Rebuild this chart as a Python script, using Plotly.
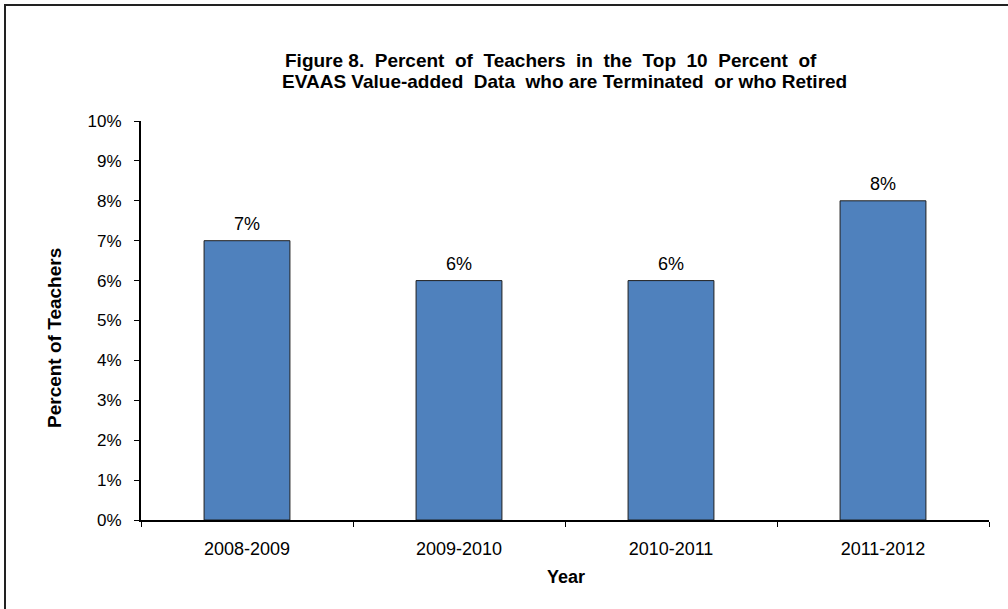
import plotly.graph_objects as go

# Data
years = ["2008-2009", "2009-2010", "2010-2011", "2011-2012"]
pct_teachers = [0.07, 0.06, 0.06, 0.08]
y_ticks = [0.0, 0.01, 0.02, 0.03, 0.04, 0.05, 0.06, 0.07, 0.08, 0.09, 0.10]

title_lines = [
    "Figure 8.  Percent  of  Teachers  in  the  Top  10  Percent  of",
    "EVAAS Value-added  Data  who are Terminated  or who Retired",
]
title_centers_x = [551, 564]

W, H = 1008, 609
L, R, T, B = 141, 19, 121, 89
PW, PH = W - L - R, H - T - B


def px_x(x):
    return (x - L) / PW


def px_y(y):
    return (H - B - y) / PH


FONT = "Liberation Sans, Arial, sans-serif"

fig = go.Figure()
fig.add_trace(
    go.Bar(
        x=years,
        y=pct_teachers,
        marker=dict(color="#4F81BD", line=dict(color="#1F1F1F", width=1)),
        width=0.405,
        hoverinfo="x+y",
    )
)

# Value labels above each bar
for yr, v in zip(years, pct_teachers):
    fig.add_annotation(
        x=yr, y=v, xref="x", yref="y",
        text=f"{v:.0%}",
        showarrow=False,
        yanchor="bottom", yshift=5,
        font=dict(size=18, family=FONT, color="#000000"),
    )

fig.update_layout(
    width=W,
    height=H,
    margin=dict(l=L, r=R, t=T, b=B, autoexpand=False),
    paper_bgcolor="white",
    plot_bgcolor="white",
    showlegend=False,
    font=dict(family=FONT, size=17, color="#000000"),
    bargap=0.595,
)

fig.update_xaxes(
    showline=True,
    linecolor="#000000",
    linewidth=2,
    ticks="outside",
    ticklen=5,
    tickwidth=1,
    tickcolor="#000000",
    tickson="boundaries",
    showgrid=False,
    zeroline=False,
    tickfont=dict(size=18, family=FONT),
    ticklabelstandoff=11,
)

fig.update_yaxes(
    range=[0, 0.10],
    tickvals=y_ticks,
    tickformat=".0%",
    showline=True,
    linecolor="#000000",
    linewidth=2,
    ticks="outside",
    ticklen=5,
    tickwidth=1,
    tickcolor="#000000",
    showgrid=False,
    zeroline=False,
    tickfont=dict(size=17, family=FONT),
    ticklabelstandoff=9,
)

# Chart title (two bold lines)
for i, (line, cx) in enumerate(zip(title_lines, title_centers_x)):
    fig.add_annotation(
        text="<b>" + line + "</b>",
        xref="paper", yref="paper",
        x=px_x(cx), y=px_y(60 + 22 * i),
        showarrow=False,
        xanchor="center", yanchor="middle",
        font=dict(size=19, family=FONT),
    )

# Axis titles
fig.add_annotation(
    text="<b>Year</b>",
    xref="paper", yref="paper",
    x=px_x(566), y=px_y(577),
    showarrow=False, xanchor="center", yanchor="middle",
    font=dict(size=18, family=FONT),
)
fig.add_annotation(
    text="<b>Percent of Teachers</b>",
    xref="paper", yref="paper",
    x=px_x(54), y=px_y(338),
    showarrow=False, xanchor="center", yanchor="middle",
    textangle=-90,
    font=dict(size=19, family=FONT),
)

# Outer frame (left and top edges visible)
fig.add_shape(
    type="rect",
    xref="paper", yref="paper",
    x0=px_x(5), x1=px_x(W + 10),
    y0=px_y(H + 10), y1=px_y(5),
    line=dict(color="#222222", width=2),
    fillcolor="rgba(0,0,0,0)",
    layer="below",
)

fig.write_html("out.html")
